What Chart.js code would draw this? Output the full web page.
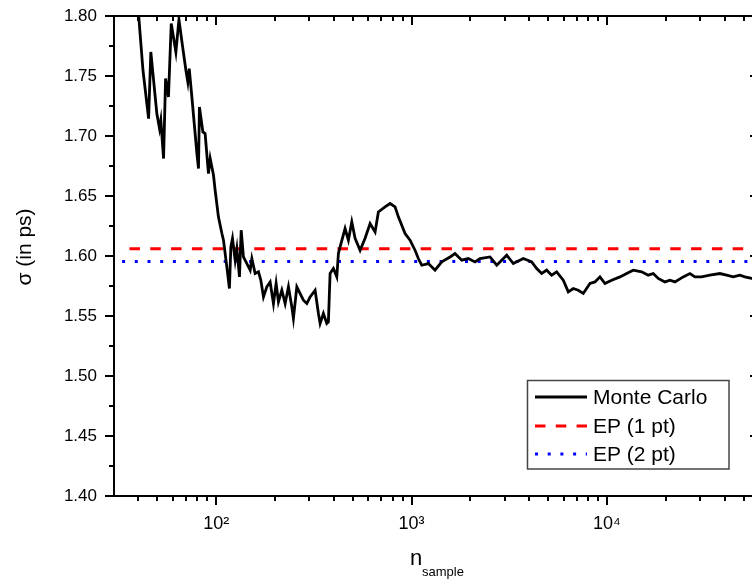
<!DOCTYPE html>
<html>
<head>
<meta charset="utf-8">
<script src="https://cdn.jsdelivr.net/npm/chart.js@4/dist/chart.umd.min.js"></script>
<style>
  html, body { margin: 0; padding: 0; background: #fff; overflow: hidden; }
  #wrap { width: 760px; height: 581px; }
</style>
</head>
<body>
<div id="wrap"><canvas id="sigmaChart"></canvas></div>
<script>
// Monte Carlo running estimate
const mcN = [39, 42.2, 45.1, 46.3, 49.7, 51.3, 52.1, 53.8, 55.1, 57.0,
  58.9, 62.2, 64.5, 67.0, 70.0, 71.6, 72.8, 75.1, 79.7, 81.2,
  82.1, 85.5, 87.8, 91.3, 93.2, 96.9, 98.8, 102.7, 107.0, 109.0,
  113.4, 116.9, 118.9, 121.2, 125.1, 127.6, 131.6, 134.3, 137.9, 143.6,
  149.3, 152.3, 158.3, 164.6, 169.3, 174.6, 181.7, 188.9, 196.4, 202.7,
  208.3, 216.8, 225.4, 234.4, 243.9, 248.5, 258.7, 279.6, 291.0, 302.6,
  320.9, 333.7, 340.4, 353.9, 368.3, 375.3, 382.9, 398.1, 414.4, 422.3,
  430.8, 456.8, 475.0, 494.4, 514.0, 545.3, 578.3, 613.4, 650.6, 676.4,
  731.8, 776.2, 823.3, 856.0, 926.4, 982.5, 1042, 1083, 1128, 1219,
  1319, 1427, 1574, 1669, 1806, 1952, 2112, 2240, 2521, 2728,
  3069, 3317, 3733, 4119, 4370, 4634, 4915, 5213, 5529, 5977,
  6339, 6723, 7131, 7565, 8185, 8681, 9209, 9768, 10568, 11655,
  12612, 13630, 15046, 16268, 17255, 18302, 19808, 21009, 22284, 24564,
  26583, 28193, 30505, 33641, 37844, 40959, 44260, 47890, 50800, 54960,
  60000];
const mcSigma = [1.826, 1.755, 1.7145, 1.770, 1.7187, 1.7062, 1.7131, 1.6812, 1.7479, 1.7325,
  1.7937, 1.770, 1.797, 1.777, 1.7548, 1.745, 1.7562, 1.7325, 1.6854, 1.6729,
  1.7242, 1.7034, 1.702, 1.6687, 1.6812, 1.6673, 1.6548, 1.6326, 1.6187, 1.6132,
  1.5909, 1.5729, 1.6076, 1.6146, 1.5965, 1.6062, 1.5826, 1.6215, 1.5992, 1.5937,
  1.5882, 1.5979, 1.5854, 1.5868, 1.5798, 1.5659, 1.5743, 1.5784, 1.5604, 1.5771,
  1.5618, 1.5715, 1.5604, 1.5743, 1.5576, 1.5479, 1.5743, 1.5632, 1.5604, 1.5659,
  1.5715, 1.5521, 1.5438, 1.5521, 1.5438, 1.5451, 1.5854, 1.5896, 1.5826, 1.6021,
  1.6076, 1.6229, 1.6132, 1.6284, 1.6148, 1.6048, 1.6148, 1.6271, 1.6201, 1.6367,
  1.6409, 1.6437, 1.6409, 1.6326, 1.6187, 1.6132, 1.6048, 1.5979, 1.5923, 1.5937,
  1.5882, 1.5951, 1.5992, 1.6021, 1.5965, 1.5979, 1.5951, 1.5979, 1.5992, 1.5923,
  1.6007, 1.5937, 1.5979, 1.5951, 1.5896, 1.5854, 1.5882, 1.584, 1.5868, 1.5798,
  1.5701, 1.5729, 1.5715, 1.5688, 1.5771, 1.5784, 1.5826, 1.5771, 1.5798, 1.5826,
  1.5854, 1.5882, 1.5868, 1.584, 1.5854, 1.5813, 1.5784, 1.5798, 1.5784, 1.5826,
  1.5854, 1.5826, 1.5826, 1.584, 1.5854, 1.584, 1.5826, 1.584, 1.5826, 1.5813,
  1.581];

// EP reference levels
const ep1N = [36, 60000];
const ep1Sigma = [1.606, 1.606];
const ep2N = [33, 60000];
const ep2Sigma = [1.5955, 1.5955];

// axes
const xMajorTicks = [100, 1000, 10000];
const xTickLabels = ['10²', '10³', '10⁴'];
const xMinorTicks = [40, 50, 60, 70, 80, 90, 200, 300, 400, 500, 600, 700, 800, 900,
  2000, 3000, 4000, 5000, 6000, 7000, 8000, 9000, 20000, 30000, 40000, 50000];
const yMajorTicks = [1.40, 1.45, 1.50, 1.55, 1.60, 1.65, 1.70, 1.75, 1.80];
const yMinorTicks = [1.425, 1.475, 1.525, 1.575, 1.625, 1.675, 1.725, 1.775];

const FONT = "'Liberation Sans', Arial, sans-serif";
Chart.defaults.font.family = FONT;
Chart.defaults.color = '#000';

const toPts = (xs, ys) => xs.map((v, i) => ({ x: v, y: ys[i] }));

// frame, mirrored ticks, legend box and axis titles (Origin style)
const framePlugin = {
  id: 'frame',
  afterDatasetsDraw(chart) {
    const { ctx, chartArea: a, scales: { x, y } } = chart;
    ctx.save();
    ctx.strokeStyle = '#000';
    ctx.lineWidth = 2;
    ctx.strokeRect(a.left, a.top, a.right - a.left, a.bottom - a.top);

    ctx.beginPath();
    const xt = (v, len) => {
      const px = Math.round(x.getPixelForValue(v));
      ctx.moveTo(px, a.bottom); ctx.lineTo(px, a.bottom + len);
      ctx.moveTo(px, a.top); ctx.lineTo(px, a.top + len);
    };
    const yt = (v, len) => {
      const py = Math.round(y.getPixelForValue(v));
      ctx.moveTo(a.left - len, py); ctx.lineTo(a.left, py);
      ctx.moveTo(a.right - len, py); ctx.lineTo(a.right, py);
    };
    xMajorTicks.forEach(v => xt(v, 9));
    xMinorTicks.forEach(v => xt(v, 5));
    yMajorTicks.forEach(v => yt(v, 9));
    yMinorTicks.forEach(v => yt(v, 5));
    ctx.stroke();

    // legend
    ctx.lineWidth = 1.5;
    ctx.strokeStyle = '#444';
    ctx.strokeRect(527.5, 380.5, 201.5, 88.5);
    const rows = [397, 426, 454];
    chart.data.datasets.forEach((ds, i) => {
      ctx.beginPath();
      ctx.strokeStyle = ds.borderColor;
      ctx.lineWidth = ds.borderWidth;
      ctx.setLineDash(ds.borderDash || []);
      ctx.moveTo(535, rows[i]); ctx.lineTo(587, rows[i]);
      ctx.stroke();
      ctx.setLineDash([]);
      ctx.fillStyle = '#000';
      ctx.font = '21px ' + FONT;
      ctx.textBaseline = 'middle';
      ctx.textAlign = 'left';
      ctx.fillText(ds.label, 593, rows[i] + 1);
    });

    // y title
    ctx.save();
    ctx.translate(25, 247);
    ctx.rotate(-Math.PI / 2);
    ctx.font = '21px ' + FONT;
    ctx.textAlign = 'center';
    ctx.textBaseline = 'middle';
    ctx.fillText('σ (in ps)', 0, 0);
    ctx.restore();

    // x title with subscript
    ctx.textAlign = 'left';
    ctx.textBaseline = 'alphabetic';
    ctx.font = '22px ' + FONT;
    ctx.fillText('n', 410, 565);
    ctx.font = '13px ' + FONT;
    ctx.fillText('sample', 422, 576);
    ctx.restore();
  }
};

new Chart(document.getElementById('sigmaChart'), {
  type: 'line',
  data: {
    datasets: [
      {
        label: 'Monte Carlo',
        data: toPts(mcN, mcSigma),
        borderColor: '#000000',
        borderWidth: 2.8,
        pointRadius: 0,
        tension: 0
      },
      {
        label: 'EP (1 pt)',
        data: toPts(ep1N, ep1Sigma),
        borderColor: '#ff0000',
        borderWidth: 3,
        borderDash: [10.5, 10.3],
        pointRadius: 0
      },
      {
        label: 'EP (2 pt)',
        data: toPts(ep2N, ep2Sigma),
        borderColor: '#0000ff',
        borderWidth: 3,
        borderDash: [3, 9.7],
        pointRadius: 0
      }
    ]
  },
  options: {
    responsive: true,
    maintainAspectRatio: false,
    animation: false,
    events: [],
    layout: { padding: { top: 16, right: 1, left: 0, bottom: 0 } },
    plugins: {
      legend: { display: false },
      tooltip: { enabled: false }
    },
    scales: {
      x: {
        type: 'logarithmic',
        min: 30,
        max: 60000,
        grid: { display: false, drawTicks: false },
        border: { display: false },
        afterBuildTicks: scale => {
          scale.ticks = xMajorTicks.map(v => ({ value: v, major: true }));
        },
        afterFit: scale => {
          scale.height = 85;
          scale.paddingLeft = 0;
          scale.paddingRight = 0;
        },
        ticks: {
          padding: 17,
          font: { size: 18 },
          maxRotation: 0,
          autoSkip: false,
          callback: v => xTickLabels[xMajorTicks.indexOf(v)]
        }
      },
      y: {
        min: 1.40,
        max: 1.80,
        grid: { display: false, drawTicks: false },
        border: { display: false },
        afterFit: scale => {
          scale.width = 114;
          scale.paddingTop = 0;
          scale.paddingBottom = 0;
        },
        ticks: {
          stepSize: 0.05,
          padding: 17,
          font: { size: 17 },
          callback: v => Number(v).toFixed(2)
        }
      }
    }
  },
  plugins: [framePlugin]
});
</script>
</body>
</html>
